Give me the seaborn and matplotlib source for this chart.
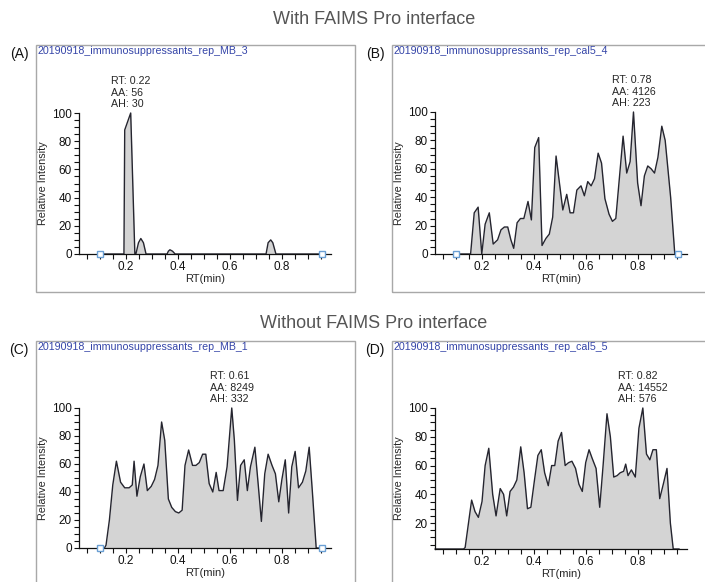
import numpy as np
import pandas as pd
import matplotlib.pyplot as plt
import seaborn as sns
from matplotlib.patches import Rectangle
from matplotlib.ticker import FixedLocator, MultipleLocator

# (A) blank, with FAIMS
a_rt = [0.10, 0.193, 0.196, 0.219, 0.235, 0.239, 0.249, 0.258, 0.268, 0.278,
        0.359, 0.364, 0.370, 0.380, 0.390, 0.740, 0.748, 0.758, 0.766, 0.778, 0.955]
a_int = [0, 0, 88, 100, 0, 0, 8, 11, 8, 0,
         0, 2, 3, 2, 0, 0, 8, 10, 8, 0, 0]

# (B) cal5, with FAIMS
b_rt = [0.10, 0.157, 0.171, 0.186, 0.200, 0.213, 0.229, 0.244, 0.261, 0.274,
        0.287, 0.300, 0.312, 0.323, 0.336, 0.349, 0.362, 0.378, 0.391, 0.404,
        0.419, 0.432, 0.447, 0.460, 0.473, 0.486, 0.499, 0.512, 0.527, 0.540,
        0.553, 0.566, 0.582, 0.595, 0.608, 0.621, 0.634, 0.648, 0.661, 0.674,
        0.690, 0.703, 0.716, 0.730, 0.744, 0.758, 0.771, 0.784, 0.800, 0.813,
        0.826, 0.839, 0.852, 0.865, 0.878, 0.893, 0.906, 0.927, 0.943, 0.955]
b_int = [0, 0, 29, 33, 0, 21, 29, 7, 10, 17,
         19, 19, 10, 4, 22, 25, 25, 37, 24, 75,
         82, 6, 11, 14, 26, 69, 50, 31, 42, 29,
         29, 45, 48, 41, 51, 48, 53, 71, 64, 39,
         28, 23, 25, 54, 83, 57, 65, 100, 50, 34,
         55, 62, 60, 57, 68, 90, 80, 40, 0, 0]

# (C) blank, without FAIMS
c_rt = [0.10, 0.118, 0.124, 0.137, 0.150, 0.164, 0.180, 0.196, 0.213, 0.225,
        0.232, 0.243, 0.256, 0.270, 0.283, 0.298, 0.311, 0.324, 0.338, 0.350,
        0.364, 0.377, 0.391, 0.404, 0.417, 0.428, 0.442, 0.457, 0.470, 0.483,
        0.496, 0.508, 0.521, 0.535, 0.548, 0.559, 0.575, 0.590, 0.608, 0.618,
        0.630, 0.642, 0.656, 0.668, 0.680, 0.697, 0.710, 0.722, 0.735, 0.748,
        0.763, 0.776, 0.789, 0.801, 0.814, 0.827, 0.839, 0.852, 0.865, 0.880,
        0.893, 0.906, 0.918, 0.933, 0.960]
c_int = [0, 0, 2, 20, 45, 62, 47, 43, 43, 45,
         62, 37, 51, 60, 41, 44, 49, 59, 90, 77,
         35, 29, 26, 25, 27, 59, 70, 59, 59, 61,
         67, 67, 46, 40, 54, 41, 41, 58, 100, 77,
         34, 59, 63, 41, 58, 72, 45, 19, 53, 67,
         59, 53, 33, 49, 63, 25, 58, 69, 43, 47,
         55, 72, 41, 0, 0]

# (D) cal5, without FAIMS
d_rt = [0.02, 0.130, 0.136, 0.161, 0.174, 0.187, 0.201, 0.213, 0.227, 0.242,
        0.255, 0.271, 0.284, 0.296, 0.309, 0.322, 0.335, 0.350, 0.363, 0.376,
        0.389, 0.403, 0.416, 0.429, 0.442, 0.456, 0.469, 0.481, 0.494, 0.507,
        0.521, 0.534, 0.547, 0.561, 0.574, 0.587, 0.600, 0.613, 0.625, 0.640,
        0.654, 0.667, 0.682, 0.695, 0.708, 0.721, 0.733, 0.746, 0.754, 0.763,
        0.776, 0.791, 0.805, 0.820, 0.834, 0.847, 0.859, 0.872, 0.885, 0.900,
        0.913, 0.926, 0.937, 0.96]
d_int = [2, 2, 3, 36, 28, 24, 35, 60, 72, 40,
         25, 44, 40, 25, 42, 45, 50, 73, 55, 30,
         31, 50, 67, 71, 55, 46, 60, 60, 77, 83,
         60, 62, 63, 58, 47, 42, 62, 71, 65, 58,
         31, 60, 96, 80, 52, 53, 55, 56, 61, 53,
         57, 52, 86, 100, 68, 64, 71, 71, 37, 48,
         58, 20, 2, 2]

letters = ["(A)", "(B)", "(C)", "(D)"]
samples = ["20190918_immunosuppressants_rep_MB_3",
           "20190918_immunosuppressants_rep_cal5_4",
           "20190918_immunosuppressants_rep_MB_1",
           "20190918_immunosuppressants_rep_cal5_5"]
peak_rt = [0.219, 0.784, 0.608, 0.820]
peak_text = ["RT: 0.22\nAA: 56\nAH: 30",
             "RT: 0.78\nAA: 4126\nAH: 223",
             "RT: 0.61\nAA: 8249\nAH: 332",
             "RT: 0.82\nAA: 14552\nAH: 576"]
section_titles = ["With FAIMS Pro interface", "Without FAIMS Pro interface"]

sns.set_style("ticks")
plt.rcParams['font.family'] = ['Liberation Sans', 'DejaVu Sans']

W, H = 705, 582
fig = plt.figure(figsize=(W / 100, H / 100), dpi=100)


def px(x0, y0, x1, y1):
    return [x0 / W, 1 - y1 / H, (x1 - x0) / W, (y1 - y0) / H]


# axes boxes in pixels: left, top, right, bottom
boxes = [(79, 113, 331, 254), (435, 112, 687, 254),
         (79, 408, 331, 548), (435, 408, 687, 549)]
frames = [(36, 45, 355, 292), (392, 45, 712, 292),
          (36, 341, 355, 592), (392, 341, 712, 592)]
ybottom = [0, 0, 0, 2]
traces = [(a_rt, a_int), (b_rt, b_int), (c_rt, c_int), (d_rt, d_int)]
show_markers = [True, True, True, False]

for i in range(4):
    fx0, fy0, fx1, fy1 = frames[i]
    fig.add_artist(Rectangle((fx0 / W, 1 - fy1 / H), (fx1 - fx0) / W, (fy1 - fy0) / H,
                             transform=fig.transFigure, fill=False,
                             ec="#a8a8a8", lw=1.0))
    fig.text((fx0 + 2) / W, 1 - (fy0 + 1.5) / H, samples[i], color="#3545a8",
             fontsize=7.7, ha="left", va="top")
    fig.text((fx0 - 17) / W, 1 - (fy0 + 9) / H, letters[i], fontsize=10,
             ha="center", va="center", color="#111111")

    ax = fig.add_axes(px(*boxes[i]))
    rt, inten = traces[i]
    ax.fill_between(rt, ybottom[i], inten, color="#d4d4d4", lw=0)
    sns.lineplot(x=rt, y=inten, ax=ax, color="#25252f", linewidth=1.0,
                 clip_on=False, sort=False, estimator=None)
    if show_markers[i]:
        ax.plot([0.10, 0.957], [0, 0], ls="none", marker="s", ms=5,
                mfc="white", mec="#6a9fd4", mew=1.0, clip_on=False, zorder=5)

    ax.set_xlim(0.02, 0.99)
    ax.set_ylim(ybottom[i], 100)
    ax.xaxis.set_major_locator(FixedLocator([0.2, 0.4, 0.6, 0.8]))
    ax.xaxis.set_minor_locator(MultipleLocator(0.05))
    if ybottom[i] == 0:
        ax.yaxis.set_major_locator(FixedLocator([0, 20, 40, 60, 80, 100]))
    else:
        ax.yaxis.set_major_locator(FixedLocator([20, 40, 60, 80, 100]))
    ax.yaxis.set_minor_locator(MultipleLocator(5))
    ax.tick_params(which="both", direction="out", length=3.5, width=0.8,
                   labelsize=8.5, pad=1.5, colors="#111111")
    sns.despine(ax=ax)
    for s in ["left", "bottom"]:
        ax.spines[s].set_linewidth(0.9)
        ax.spines[s].set_color("#111111")
    ax.set_xlabel("RT(min)", fontsize=8, labelpad=1)
    ax.set_ylabel("Relative Intensity", fontsize=7.8, labelpad=3)
    ax.patch.set_alpha(0)

    ax.annotate(peak_text[i], xy=(peak_rt[i], 100), xytext=(0, 3),
                textcoords="offset points", ha="center", va="bottom",
                multialignment="left", fontsize=7.7, linespacing=1.15,
                annotation_clip=False)

fig.text(374 / W, 1 - 19 / H, section_titles[0], fontsize=13, color="#555555",
         ha="center", va="center")
fig.text(374 / W, 1 - 323 / H, section_titles[1], fontsize=13, color="#555555",
         ha="center", va="center")

fig.savefig("out.png", dpi=100, facecolor="white")
